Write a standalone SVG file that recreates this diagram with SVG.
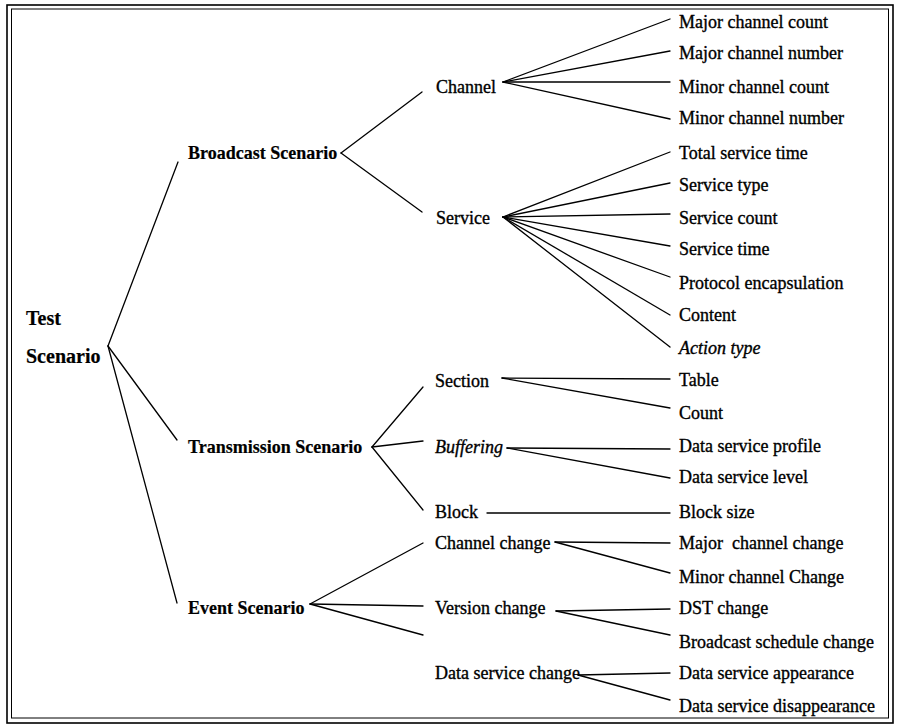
<svg xmlns="http://www.w3.org/2000/svg" width="897" height="726" viewBox="0 0 897 726">
  <style>
    text { font-family: "Liberation Serif", "Times New Roman", serif; font-size: 18px; fill: #000; stroke: #000; stroke-width: 0.35px; }
    .root { font-size: 20px; font-weight: bold; stroke-width: 0.2px; }
    .lvl1 { font-weight: bold; stroke-width: 0.2px; }
    .it { font-style: italic; }
    .frame { fill: none; stroke: #000; stroke-width: 1.6; }
    #connectors line { stroke: #000; stroke-width: 1.3; stroke-linecap: round; }
  </style>

  <rect width="897" height="726" fill="#fff"/>
  <!-- double frame -->
  <rect class="frame" x="7" y="5" width="886" height="718"/>
  <rect class="frame" x="11.5" y="9" width="877" height="709" style="stroke-width:1"/>

  <g id="connectors">
    <!-- root -->
    <line x1="108" y1="346" x2="178" y2="162"/>
    <line x1="108" y1="346" x2="177" y2="440"/>
    <line x1="108" y1="346" x2="177" y2="603"/>
    <!-- Broadcast Scenario -->
    <line x1="341" y1="153" x2="422" y2="92"/>
    <line x1="341" y1="153" x2="422" y2="212"/>
    <!-- Channel -->
    <line x1="503" y1="82" x2="670" y2="19"/>
    <line x1="503" y1="82" x2="670" y2="51"/>
    <line x1="503" y1="82" x2="670" y2="82"/>
    <line x1="503" y1="82" x2="670" y2="119"/>
    <!-- Service -->
    <line x1="503" y1="217" x2="670" y2="152"/>
    <line x1="503" y1="217" x2="670" y2="183"/>
    <line x1="503" y1="217" x2="670" y2="214"/>
    <line x1="503" y1="217" x2="670" y2="246"/>
    <line x1="503" y1="217" x2="670" y2="277"/>
    <line x1="503" y1="217" x2="670" y2="315"/>
    <line x1="503" y1="217" x2="670" y2="347"/>
    <!-- Transmission Scenario -->
    <line x1="372" y1="447" x2="423" y2="387"/>
    <line x1="372" y1="447" x2="423" y2="441"/>
    <line x1="372" y1="447" x2="423" y2="510"/>
    <!-- Section -->
    <line x1="502" y1="378" x2="670" y2="379"/>
    <line x1="502" y1="378" x2="670" y2="408"/>
    <!-- Buffering -->
    <line x1="507" y1="448" x2="670" y2="449"/>
    <line x1="507" y1="448" x2="670" y2="478"/>
    <!-- Block -->
    <line x1="487" y1="513" x2="670" y2="513"/>
    <!-- Event Scenario -->
    <line x1="310" y1="604" x2="423" y2="543"/>
    <line x1="310" y1="604" x2="423" y2="606"/>
    <line x1="310" y1="604" x2="423" y2="635"/>
    <!-- Channel change -->
    <line x1="555" y1="542" x2="670" y2="543"/>
    <line x1="555" y1="542" x2="670" y2="573"/>
    <!-- Version change -->
    <line x1="556" y1="611" x2="670" y2="609"/>
    <line x1="556" y1="611" x2="670" y2="635"/>
    <!-- Data service change -->
    <line x1="578" y1="675" x2="670" y2="673"/>
    <line x1="578" y1="675" x2="670" y2="700"/>
  </g>

  <g id="test-scenario">
    <text class="root" x="26" y="325">Test</text>
    <text class="root" x="26" y="363">Scenario</text>
  </g>

  <g id="broadcast-scenario"><text class="lvl1" x="188" y="159">Broadcast Scenario</text></g>
  <g id="transmission-scenario"><text class="lvl1" x="188" y="453">Transmission Scenario</text></g>
  <g id="event-scenario"><text class="lvl1" x="188" y="614">Event Scenario</text></g>

  <g id="channel"><text x="436" y="93">Channel</text></g>
  <g id="service"><text x="436" y="224">Service</text></g>
  <g id="section"><text x="435" y="387">Section</text></g>
  <g id="buffering"><text class="it" x="435" y="453">Buffering</text></g>
  <g id="block"><text x="435" y="518">Block</text></g>
  <g id="channel-change"><text x="435" y="549">Channel change</text></g>
  <g id="version-change"><text x="435" y="614">Version change</text></g>
  <g id="data-service-change"><text x="435" y="679">Data service change</text></g>

  <g id="major-channel-count"><text x="679" y="28">Major channel count</text></g>
  <g id="major-channel-number"><text x="679" y="59">Major channel number</text></g>
  <g id="minor-channel-count"><text x="679" y="93">Minor channel count</text></g>
  <g id="minor-channel-number"><text x="679" y="124">Minor channel number</text></g>
  <g id="total-service-time"><text x="679" y="159">Total service time</text></g>
  <g id="service-type"><text x="679" y="191">Service type</text></g>
  <g id="service-count"><text x="679" y="224">Service count</text></g>
  <g id="service-time"><text x="679" y="255">Service time</text></g>
  <g id="protocol-encapsulation"><text x="679" y="289">Protocol encapsulation</text></g>
  <g id="content"><text x="679" y="321">Content</text></g>
  <g id="action-type"><text class="it" x="679" y="354">Action type</text></g>
  <g id="table"><text x="679" y="386">Table</text></g>
  <g id="count"><text x="679" y="419">Count</text></g>
  <g id="data-service-profile"><text x="679" y="452">Data service profile</text></g>
  <g id="data-service-level"><text x="679" y="483">Data service level</text></g>
  <g id="block-size"><text x="679" y="518">Block size</text></g>
  <g id="major-channel-change"><text x="679" y="549" xml:space="preserve">Major  channel change</text></g>
  <g id="minor-channel-change"><text x="679" y="583">Minor channel Change</text></g>
  <g id="dst-change"><text x="679" y="614">DST change</text></g>
  <g id="broadcast-schedule-change"><text x="679" y="648">Broadcast schedule change</text></g>
  <g id="data-service-appearance"><text x="679" y="679">Data service appearance</text></g>
  <g id="data-service-disappearance"><text x="679" y="712">Data service disappearance</text></g>
</svg>
